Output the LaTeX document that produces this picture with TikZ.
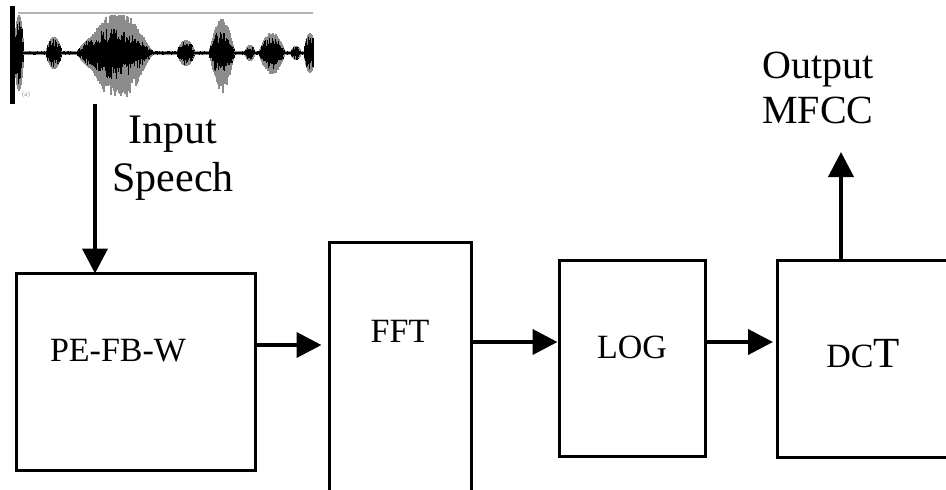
\documentclass[tikz,border=0pt]{standalone}
\usepackage{fontspec}
\setmainfont{Liberation Serif}
\usetikzlibrary{calc,positioning,arrows.meta}
\tikzstyle{mfcc chain}=[
    x=1pt, y=-1pt,
    every node/.style={inner sep=0pt, outer sep=0pt},
    declare function={bump(\p,\c,\w)=max(0,1-((\p-\c)/\w)^2);},
]
\tikzstyle{block}=[draw, rectangle, line width=3pt]
\tikzstyle{flow}=[line width=4pt, -{Triangle[length=25pt,width=25pt]}]
\newcommand{\blocklabel}[1]{\fontsize{34}{40}\selectfont #1}

\begin{document}
\begin{tikzpicture}[mfcc chain]
    \useasboundingbox (0,0) rectangle (946,490);
    \clip (0,0) rectangle (946,490);

    % speech waveform
    \draw[black!30, line width=1.5pt] (18,13) -- (313,13);
    \fill (10,6) rectangle (15,104);
    \pgfmathsetseed{11}
    \foreach \x in {16,...,313}{
        \pgfmathsetmacro{\env}{1.8 + 36*bump(\x,19,5) + 14*bump(\x,54,8)
            + 24*bump(\x,115,38) + 11*bump(\x,186,9) + 22*bump(\x,222,13)
            + 6*bump(\x,250,5) + 15*bump(\x,272,13) + 5*bump(\x,296,5)
            + 18*bump(\x,310,6)}
        \pgfmathsetmacro{\halo}{16*bump(\x,120,28) + 12*bump(\x,222,11)
            + 4*bump(\x,272,12)}
        \pgfmathsetmacro{\gup}{min(38,\env+\halo*(0.3+0.7*rnd))}
        \pgfmathsetmacro{\gdn}{min(48,\env+\halo*(0.4+1.0*rnd))}
        \pgfmathsetmacro{\bup}{\env*(0.45+0.55*rnd)}
        \pgfmathsetmacro{\bdn}{\env*(0.45+0.55*rnd)}
        \draw[black!45, line width=1.2pt] (\x,53-\gup) -- (\x,53+\gdn);
        \draw[black, line width=1.2pt] (\x,53-\bup) -- (\x,53+\bdn);
    }
    \node[black!45, font=\fontsize{7}{8}\selectfont] (tag) at (26,95) {(a)};
    \coordinate (wave) at (95,104);

    % blocks
    \node[block, minimum width=239, minimum height=197] (pefbw) at (136,372) {};
    \node[block, minimum width=142, minimum height=300] (fft) at (400.5,392) {};
    \node[block, minimum width=146, minimum height=196] (log) at (632.5,358.5) {};
    \node[block, minimum width=200, minimum height=197] (dct) at (877,359) {};

    \node[anchor=base west] (pefbwtext) at (50,361) {\blocklabel{PE-FB-W}};
    \node[anchor=base] (ffttext) at (400,342) {\blocklabel{FFT}};
    \node[anchor=base] (logtext) at (632,358) {\blocklabel{LOG}};
    \node[anchor=base] (dcttext) at (863,367)
        {\blocklabel{DC{\fontsize{43}{48}\selectfont T}}};

    \node[align=center, anchor=north, font=\fontsize{42}{48}\selectfont]
        (input) at (173,116) {Input\\Speech};
    \node[align=center, anchor=north, font=\fontsize{40}{45}\selectfont]
        (output) at (818,52) {Output\\MFCC};
    \coordinate (out) at (841,152);

    \path
        (wave) edge[flow] (wave |- pefbw.north)
        (pefbw.east |- 0,345) edge[flow, shorten >=8pt] (fft.west |- 0,345)
        (fft.east |- 0,342) edge[flow, shorten >=2pt] (log.west |- 0,342)
        (log.east |- 0,342) edge[flow, shorten >=4pt] (dct.west |- 0,342)
        (out |- dct.north) edge[flow] (out)
    ;
\end{tikzpicture}
\end{document}
